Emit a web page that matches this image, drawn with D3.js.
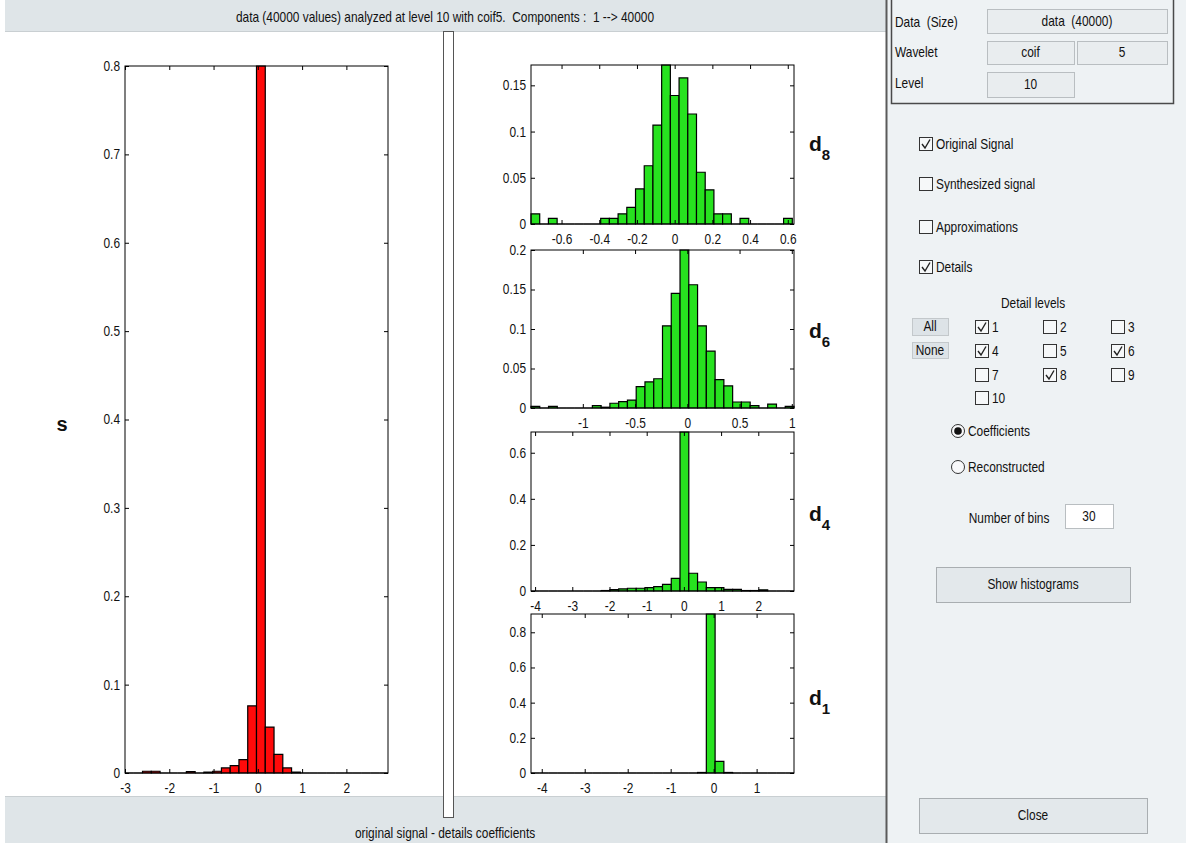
<!DOCTYPE html>
<html>
<head>
<meta charset="utf-8">
<script src="https://cdn.jsdelivr.net/npm/d3@7"></script>
<style>
  html, body { margin: 0; padding: 0; background: #ffffff; }
  svg { display: block; }
  text { font-family: "Liberation Sans Narrow", "Arial Narrow", "Liberation Sans", sans-serif; font-size: 14px; fill: #111; white-space: pre; }
</style>
</head>
<body>
<svg id="fig" width="1186" height="843"></svg>
<script>
// ---- Histogram data: relative frequencies for 30 bins ----
// original signal s
const sBins = [-3.0, 2.94];
const sFreq = [0, 0, 0.002, 0.002, 0, 0, 0, 0.0015, 0, 0.001,
               0.002, 0.0057, 0.0084, 0.0152, 0.076, 0.80, 0.052, 0.021, 0.0057, 0.001,
               0, 0, 0, 0, 0, 0, 0, 0, 0, 0];
const sXTicks = [-3, -2, -1, 0, 1, 2];
const sYTicks = [0, 0.1, 0.2, 0.3, 0.4, 0.5, 0.6, 0.7, 0.8];

// detail coefficients d8
const d8Bins = [-0.762, 0.624];
const d8XLim = [-0.762, 0.633];
const d8Freq = [0.011, 0, 0.006, 0, 0, 0, 0, 0, 0.006, 0.006,
                0.011, 0.018, 0.038, 0.063, 0.107, 0.172, 0.139, 0.158, 0.119, 0.056,
                0.037, 0.011, 0.011, 0, 0.006, 0, 0, 0, 0, 0.006];
const d8XTicks = [-0.6, -0.4, -0.2, 0, 0.2, 0.4, 0.6];
const d8YTicks = [0, 0.05, 0.1, 0.15];

// detail coefficients d6
const d6Bins = [-1.496, 1.021];
const d6Freq = [0.002, 0, 0.002, 0, 0, 0, 0, 0.003, 0.001, 0.006,
                0.008, 0.010, 0.027, 0.033, 0.037, 0.104, 0.145, 0.200, 0.156, 0.104,
                0.072, 0.036, 0.028, 0.0076, 0.0076, 0.003, 0, 0.005, 0, 0.002];
const d6XTicks = [-1, -0.5, 0, 0.5, 1];
const d6YTicks = [0, 0.05, 0.1, 0.15, 0.2];

// detail coefficients d4
const d4Bins = [-4.11, 2.96];
const d4Freq = [0, 0, 0, 0, 0, 0, 0, 0, 0.002, 0.006,
                0.009, 0.012, 0.012, 0.015, 0.019, 0.029, 0.055, 0.69, 0.077, 0.039,
                0.015, 0.015, 0.007, 0.007, 0.002, 0.002, 0.005, 0, 0, 0];
const d4XTicks = [-4, -3, -2, -1, 0, 1, 2];
const d4YTicks = [0, 0.2, 0.4, 0.6];

// detail coefficients d1
const d1Bins = [-4.25, 1.87];
const d1Freq = [0, 0, 0, 0, 0, 0, 0, 0, 0, 0,
                0, 0, 0, 0, 0, 0, 0, 0, 0, 0.003,
                0.904, 0.066, 0.003, 0, 0, 0, 0, 0, 0, 0];
const d1XTicks = [-4, -3, -2, -1, 0, 1];
const d1YTicks = [0, 0.2, 0.4, 0.6, 0.8];

const titleText = "data (40000 values) analyzed at level 10 with coif5.  Components :  1 --> 40000";
const footText = "original signal - details coefficients";

const svg = d3.select("#fig");
const fmt = v => String(+v.toFixed(3)).replace("\u2212", "-");

// ---- figure background pieces ----
svg.append("rect").attr("x", 5).attr("y", 0).attr("width", 881).attr("height", 31).attr("fill", "#dfe5e8");
svg.append("line").attr("x1", 5).attr("x2", 886).attr("y1", 31.5).attr("y2", 31.5).attr("stroke", "#c9cfd2");
svg.append("text").attr("x", 445).attr("y", 22).attr("text-anchor", "middle").text(titleText);

svg.append("rect").attr("x", 5).attr("y", 797).attr("width", 881).attr("height", 46).attr("fill", "#dfe5e8");
svg.append("line").attr("x1", 5).attr("x2", 886).attr("y1", 796.5).attr("y2", 796.5).attr("stroke", "#c9cfd2");
svg.append("text").attr("x", 445).attr("y", 838).attr("text-anchor", "middle").text(footText);

// vertical slider between the two columns
svg.append("rect").attr("x", 443.5).attr("y", 31.5).attr("width", 10).attr("height", 786)
  .attr("fill", "#ffffff").attr("stroke", "#555").attr("stroke-width", 1);

// ---- histogram axes ----
function histogram(box, bins, freq, xTicks, yTicks, color, xlim) {
  const n = freq.length;
  const x = d3.scaleLinear().domain(xlim || bins).range([box.left, box.right]);
  const y = d3.scaleLinear().domain([0, d3.max(freq)]).range([box.bottom, box.top]);
  const w = (bins[1] - bins[0]) / n;
  const g = svg.append("g");

  g.append("rect").attr("x", box.left).attr("y", box.top)
    .attr("width", box.right - box.left).attr("height", box.bottom - box.top).attr("fill", "#fff");

  g.selectAll("path.bar").data(freq).join("path").attr("class", "bar")
    .attr("d", (f, i) => {
      const x0 = x(bins[0] + i * w), x1 = x(bins[0] + (i + 1) * w);
      return `M${x0},${y(0)}V${y(f)}H${x1}V${y(0)}Z`;
    })
    .attr("fill", color).attr("stroke", "#000").attr("stroke-width", 1.2);

  const ax = (gen, tx, ty, labels) => {
    const a = g.append("g").attr("transform", `translate(${tx},${ty})`).call(gen);
    a.select(".domain").remove();
    a.selectAll("line").attr("stroke", "#000");
    a.selectAll("text").style("font-size", "14px").attr("fill", "#111");
    if (!labels) a.selectAll("text").remove();
    return a;
  };
  ax(d3.axisBottom(x).tickValues(xTicks).tickSize(-4).tickPadding(10).tickFormat(fmt), 0, box.bottom, true);
  ax(d3.axisTop(x).tickValues(xTicks).tickSize(-4), 0, box.top, false);
  ax(d3.axisLeft(y).tickValues(yTicks).tickSize(-4).tickPadding(5).tickFormat(fmt), box.left, 0, true);
  ax(d3.axisRight(y).tickValues(yTicks).tickSize(-4), box.right, 0, false);

  g.append("rect").attr("x", box.left).attr("y", box.top)
    .attr("width", box.right - box.left).attr("height", box.bottom - box.top)
    .attr("fill", "none").attr("stroke", "#000").attr("stroke-width", 1);
}

const RED = "#ff0a0a", GREEN = "#27e21f";
histogram({ left: 125, right: 388, top: 66, bottom: 773 }, sBins, sFreq, sXTicks, sYTicks, RED);
histogram({ left: 531, right: 794, top: 65, bottom: 224 }, d8Bins, d8Freq, d8XTicks, d8YTicks, GREEN, d8XLim);
histogram({ left: 531, right: 794, top: 250, bottom: 408 }, d6Bins, d6Freq, d6XTicks, d6YTicks, GREEN);
histogram({ left: 531, right: 794, top: 432, bottom: 591 }, d4Bins, d4Freq, d4XTicks, d4YTicks, GREEN);
histogram({ left: 531, right: 794, top: 614, bottom: 773 }, d1Bins, d1Freq, d1XTicks, d1YTicks, GREEN);

// axis names
svg.append("text").attr("class", "wide").attr("x", 62).attr("y", 431).attr("text-anchor", "middle")
  .style("font-size", "20px").style("font-weight", "bold").text("s");
[["8", 151], ["6", 338], ["4", 521], ["1", 705]].forEach(([k, yb]) => {
  const t = svg.append("text").attr("class", "wide").attr("x", 809).attr("y", yb)
    .style("font-size", "21px").style("font-weight", "bold");
  t.append("tspan").text("d");
  t.append("tspan").attr("dy", 9).style("font-size", "15px").text(k);
});

// ---- control panel ----
const panel = svg.append("g");
panel.append("rect").attr("x", 887).attr("y", 0).attr("width", 299).attr("height", 843).attr("fill", "#eef2f4");
panel.append("line").attr("x1", 886.5).attr("x2", 886.5).attr("y1", 0).attr("y2", 843)
  .attr("stroke", "#5a5a5a").attr("stroke-width", 2);
panel.append("rect").attr("x", 891.5).attr("y", -2).attr("width", 282).attr("height", 105.5)
  .attr("fill", "none").attr("stroke", "#4a4a4a").attr("stroke-width", 1.5);

function field(x, yTop, w, h, label, fill, stroke) {
  panel.append("rect").attr("x", x + 0.5).attr("y", yTop + 0.5).attr("width", w).attr("height", h)
    .attr("fill", fill || "#e9edef").attr("stroke", stroke || "#b9bec1");
  panel.append("text").attr("x", x + w / 2).attr("y", yTop + h / 2 + 5).attr("text-anchor", "middle").text(label);
}
function label(x, yb, s, anchor) {
  panel.append("text").attr("x", x).attr("y", yb).attr("text-anchor", anchor || "start").text(s);
}
function checkbox(x, yc, on, s) {
  panel.append("rect").attr("x", x + 0.5).attr("y", yc - 6.5).attr("width", 13).attr("height", 13)
    .attr("fill", "#f6f8f9").attr("stroke", "#333").attr("stroke-width", 1);
  if (on) {
    panel.append("path").attr("d", `M${x + 3},${yc} L${x + 6},${yc + 4} L${x + 11},${yc - 4.5}`)
      .attr("fill", "none").attr("stroke", "#222").attr("stroke-width", 1.4);
  }
  panel.append("text").attr("x", x + 17).attr("y", yc + 5).text(s);
}
function radio(x, yc, on, s) {
  panel.append("circle").attr("cx", x).attr("cy", yc).attr("r", 6.5)
    .attr("fill", "#f8f9fa").attr("stroke", "#333").attr("stroke-width", 1);
  if (on) panel.append("circle").attr("cx", x).attr("cy", yc).attr("r", 3.8).attr("fill", "#111");
  panel.append("text").attr("x", x + 10).attr("y", yc + 5).text(s);
}

label(895, 27, "Data  (Size)");
label(895, 57, "Wavelet");
label(895, 88, "Level");
field(987, 9, 180, 24, "data  (40000)");
field(987, 41, 87, 23, "coif");
field(1077, 41, 90, 23, "5");
field(987, 72, 87, 25, "10");

checkbox(919, 144, true, "Original Signal");
checkbox(919, 184, false, "Synthesized signal");
checkbox(919, 227, false, "Approximations");
checkbox(919, 267, true, "Details");

label(1033, 308, "Detail levels", "middle");
field(912, 318, 36, 17, "All", "#dde3e7", "#c3c8cb");
field(912, 342, 36, 16, "None", "#dde3e7", "#c3c8cb");

const levelCols = [975, 1043, 1111];
const levelRows = [327, 351, 375, 398];
const levelOn = [1, 4, 6, 8];
d3.range(1, 11).forEach(k => {
  const c = (k - 1) % 3, r = Math.floor((k - 1) / 3);
  checkbox(levelCols[c], levelRows[r], levelOn.includes(k), String(k));
});

radio(958, 431, true, "Coefficients");
radio(958, 467, false, "Reconstructed");

label(1009, 523, "Number of bins", "middle");
field(1065, 504, 48, 24, "30", "#ffffff", "#b9bec1");

field(936, 567, 194, 35, "Show histograms", "#e3e8eb", "#a9aeb1");
field(919, 798, 228, 35, "Close", "#e3e8eb", "#a9aeb1");

// The GUI uses a condensed face; narrow the regular face horizontally
// around each label's anchor point.
svg.selectAll("text:not(.wide)").each(function () {
  const anchor = getComputedStyle(this).textAnchor;
  const origin = anchor === "middle" ? "center" : anchor === "end" ? "right" : "left";
  d3.select(this)
    .style("transform-box", "fill-box")
    .style("transform-origin", origin + " center")
    .style("transform", "scaleX(0.85)");
});
</script>
</body>
</html>
